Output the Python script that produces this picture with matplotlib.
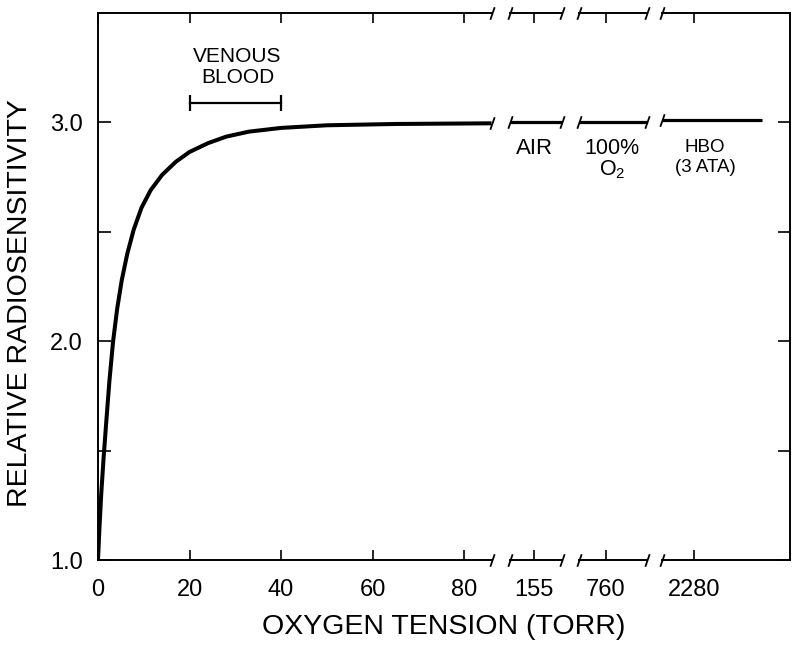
import matplotlib
matplotlib.use("Agg")
import matplotlib.pyplot as plt

plt.rcParams['font.family'] = ['Liberation Sans', 'DejaVu Sans']
plt.rcParams['mathtext.fontset'] = 'custom'
plt.rcParams['mathtext.rm'] = 'Liberation Sans'

# oxygen tension (torr) vs relative radiosensitivity
pressure = [0, 0.3, 0.7, 1.2, 1.8, 2.5, 3.3, 4.2, 5.2, 6.4, 7.8, 9.5, 11.5,
            14, 17, 20, 24, 28, 33, 40, 50, 65, 86]
sensitivity = [1.0, 1.14, 1.3, 1.46, 1.63, 1.82, 2.0, 2.15, 2.28, 2.40, 2.51,
               2.61, 2.69, 2.76, 2.82, 2.865, 2.905, 2.935, 2.958, 2.975,
               2.987, 2.993, 2.996]

# broken-axis segments: label tick, axis limits, level of the curve
seg_ticks = [155, 760, 2280]
seg_limits = [(143, 169), (733, 801), (2184, 2568)]
seg_line_x = [(143, 169), (733, 801), (2184, 2484)]
seg_level = [3.0, 3.0, 3.01]
seg_names = ["AIR", "100%\nO$_{\\mathregular{2}}$", "HBO\n(3 ATA)"]

venous_range = [20, 40]
venous_y = 3.09

y_ticks = [1.0, 1.5, 2.0, 2.5, 3.0]
y_labels = ["1.0", "", "2.0", "", "3.0"]
x_ticks = [0, 20, 40, 60, 80]

fig = plt.figure(figsize=(8, 6.49), dpi=100)
bottom, height = 0.1371, 0.8428
boxes = [(0.1225, 0.4925), (0.6375, 0.065), (0.72375, 0.085), (0.8275, 0.16)]
axes = [fig.add_axes([l, bottom, w, height]) for l, w in boxes]

for ax in axes:
    ax.set_ylim(1.0, 3.5)
    ax.set_yticks(y_ticks)
    for s in ax.spines.values():
        s.set_linewidth(1.4)
    ax.tick_params(axis='x', which='both', direction='in', top=True,
                   length=7, width=1.2, labelsize=17, pad=14)
    ax.tick_params(axis='y', direction='in', length=9, width=1.2,
                   labelsize=17, pad=11)

ax1 = axes[0]
ax1.plot(pressure, sensitivity, color='black', lw=2.9, solid_capstyle='butt')
ax1.set_xlim(0, 86.1)
ax1.set_xticks(x_ticks)
ax1.set_yticklabels(y_labels)
ax1.spines['right'].set_visible(False)
ax1.tick_params(axis='y', right=False)

ax1.plot(venous_range, [venous_y, venous_y], color='black', lw=1.6,
         marker='|', ms=12, mew=1.6)
ax1.text(30.5, 3.253, "VENOUS\nBLOOD", ha='center', va='center',
         fontsize=15, linespacing=1.15)

for i, ax in enumerate(axes[1:]):
    ax.set_xlim(*seg_limits[i])
    ax.set_xticks([seg_ticks[i]])
    ax.spines['left'].set_visible(False)
    ax.tick_params(axis='y', left=False, labelleft=False)
    if i < 2:
        ax.spines['right'].set_visible(False)
    else:
        ax.tick_params(axis='y', right=True, length=9)
    ax.plot(seg_line_x[i], [seg_level[i]] * 2, color='black', lw=2.3,
            solid_capstyle='butt')

axes[1].text(155.5, 2.881, seg_names[0], ha='center', va='center', fontsize=16)
axes[2].text(766, 2.83, seg_names[1], ha='center', va='center', fontsize=15.5,
             linespacing=1.0)
axes[3].text(2313, 2.84, seg_names[2], ha='center', va='center', fontsize=13.5,
             linespacing=1.2)

# break marks on the frame and on the curve
slash = [(-0.35, -1), (0.35, 1)]
kw = dict(marker=slash, ms=9, mew=1.3, color='black', linestyle='none',
          clip_on=False)
for i, ax in enumerate(axes):
    sides = []
    if i > 0:
        sides.append(0)
    if i < 3:
        sides.append(1)
    for sx in sides:
        ax.plot([sx, sx], [0, 1], transform=ax.transAxes, **kw)
    if i == 0:
        ax.plot([pressure[-1]], [sensitivity[-1]], **kw)
    else:
        xs = seg_line_x[i - 1]
        for sx in sides:
            ax.plot([xs[sx]], [seg_level[i - 1]], **kw)

fig.text(0.555, 0.034, "OXYGEN TENSION (TORR)", ha='center', va='center',
         fontsize=20.5)
fig.text(0.025, 0.533, "RELATIVE RADIOSENSITIVITY", ha='center', va='center',
         rotation=90, fontsize=20.5)

fig.savefig("out.png", dpi=100)
